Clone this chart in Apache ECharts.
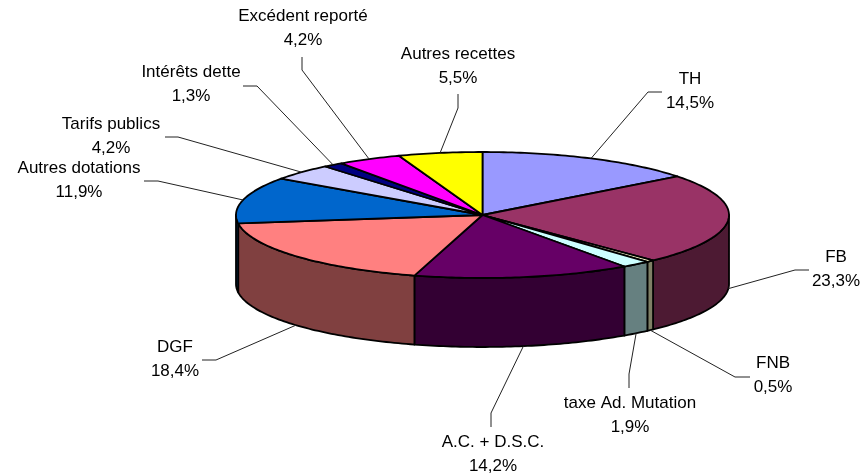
<!DOCTYPE html>
<html>
<head>
<meta charset="utf-8">
<script src="https://cdn.jsdelivr.net/npm/echarts@6/dist/echarts.min.js"></script>
<style>html,body{margin:0;padding:0;background:#fff}#c{width:867px;height:475px}</style>
</head>
<body>
<div id="c"></div>
<script>
var categories = ['TH','FB','FNB','taxe Ad. Mutation','A.C. + D.S.C.','DGF','Autres dotations','Tarifs publics','Intérêts dette','Excédent reporté','Autres recettes'];
var shares = [14.5,23.3,0.5,1.9,14.2,18.4,11.9,4.2,1.3,4.2,5.5];
var topColors = ['#9999FF','#993366','#FFFFCC','#CCFFFF','#660066','#FF8080','#0066CC','#CCCCFF','#000080','#FF00FF','#FFFF00'];
var wallColors = ['#4D4D80','#4D1A33','#808066','#668080','#330033','#804040','#003366','#666680','#000040','#800080','#808000'];
// Label layout: centre x, y of the name line
var labelX = [690,836,773,630,493,175,79,111,191,303,458];
var labelY = [79,257,363,403,442,347,168,124,72,16,54];
// Leader line: outer end, then elbow
var leadOuter = [[662,92],[809,270],[750,377],[629,388],[491,427],[202,360],[144,181],[165,137],[243,86],[302,57],[458,94]];
var leadElbow = [[648,92],[795,270],[735,377],[629,374],[491,413],[216,360],[158,181],[178,137],[257,86],[302,70],[458,108]];

var CX = 482.5, CY = 215, RX = 246.5, RY = 63, DEPTH = 69;
var total = shares.reduce(function(a,b){return a+b;},0);
function pt(deg, dy){
  var r = deg*Math.PI/180;
  return [CX+RX*Math.sin(r), CY-RY*Math.cos(r)+(dy||0)];
}
function arc(a,b,dy){
  var out=[], n=Math.max(2,Math.ceil(Math.abs(b-a)));
  for(var i=0;i<=n;i++) out.push(pt(a+(b-a)*i/n,dy));
  return out;
}
var startShare = [];
shares.reduce(function(acc,v,i){startShare[i]=acc;return acc+v;},0);

function renderItem(params, api){
  var i = params.dataIndex, val = api.value(1);
  var a0 = startShare[i]/total*360, a1 = a0+val/total*360, mid=(a0+a1)/2;
  var children = [];
  var stroke = {stroke:'#000',lineWidth:1.8,lineJoin:'round'};
  var w0=Math.max(a0,90), w1=Math.min(a1,270);
  if(w1>w0){
    var pts = arc(w0,w1,0).concat(arc(w1,w0,DEPTH));
    children.push({type:'polygon',shape:{points:pts},style:Object.assign({fill:wallColors[i]},stroke)});
  }
  children.push({type:'polygon',shape:{points:[[CX,CY]].concat(arc(a0,a1,0))},style:Object.assign({fill:topColors[i]},stroke)});
  var front = mid>90 && mid<270;
  var anchor = pt(mid, front?DEPTH:0);
  children.push({type:'polyline',shape:{points:[leadOuter[i],leadElbow[i],anchor]},style:{stroke:'#222',lineWidth:1,fill:null}});
  children.push({type:'text',x:labelX[i],y:labelY[i],style:{
    text:categories[i],font:'17px "Liberation Sans", Arial, sans-serif',fill:'#000',align:'center',verticalAlign:'middle'}});
  children.push({type:'text',x:labelX[i],y:labelY[i]+24,style:{
    text:val.toFixed(1).replace('.',',')+'%',font:'17px "Liberation Sans", Arial, sans-serif',fill:'#000',align:'center',verticalAlign:'middle'}});
  return {type:'group',children:children};
}
var chart = echarts.init(document.getElementById('c'),null,{renderer:'canvas'});
chart.setOption({
  animation:false,
  backgroundColor:'#fff',
  series:[{
    type:'custom',
    coordinateSystem:'none',
    renderItem:renderItem,
    data:categories.map(function(c,i){return [c,shares[i]];})
  }]
});
</script>
</body>
</html>
